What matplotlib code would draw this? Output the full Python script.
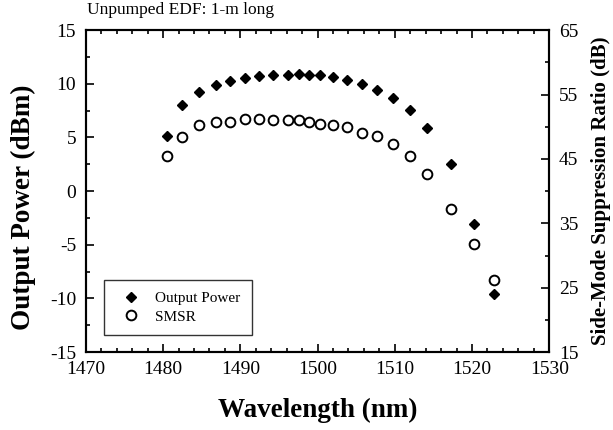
import matplotlib.pyplot as plt
from matplotlib.ticker import MultipleLocator

plt.rcParams['font.family'] = ['Liberation Serif', 'DejaVu Serif']
plt.rcParams['axes.unicode_minus'] = False

# wavelength (nm) of each measurement
wavelength = [1480.5, 1482.4, 1484.6, 1486.8, 1488.7, 1490.6, 1492.4, 1494.2,
              1496.2, 1497.6, 1498.9, 1500.3, 1502.0, 1503.8, 1505.7, 1507.7,
              1509.8, 1512.0, 1514.2, 1517.3, 1520.3, 1522.9]
# output power (dBm), left axis
output_power = [5.1, 8.0, 9.2, 9.9, 10.3, 10.5, 10.7, 10.8,
                10.8, 10.9, 10.85, 10.8, 10.65, 10.35, 10.0, 9.4,
                8.7, 7.55, 5.85, 2.5, -3.1, -9.6]
# side-mode suppression ratio (dB), right axis
smsr = [45.4, 48.4, 50.3, 50.7, 50.7, 51.2, 51.2, 51.1,
        51.1, 51.0, 50.8, 50.45, 50.2, 50.0, 49.1, 48.6,
        47.3, 45.5, 42.6, 37.2, 31.8, 26.2]

fig = plt.figure(figsize=(6.13, 4.30), dpi=100)
ax = fig.add_axes([0.140, 0.181, 0.756, 0.749])
ax2 = ax.twinx()

h1, = ax.plot(wavelength, output_power, linestyle='none', marker='D',
              markersize=5.5, color='black', label='Output Power')
h2, = ax2.plot(wavelength, smsr, linestyle='none', marker='o', markersize=7,
               markerfacecolor='white', markeredgecolor='black',
               markeredgewidth=1.4, label='SMSR')

ax.set_xlim(1470, 1530)
ax.set_ylim(-15, 15)
ax2.set_ylim(15, 65)

ax.xaxis.set_major_locator(MultipleLocator(10))
ax.xaxis.set_minor_locator(MultipleLocator(2))
ax.yaxis.set_major_locator(MultipleLocator(5))
ax.yaxis.set_minor_locator(MultipleLocator(2.5))
ax2.yaxis.set_major_locator(MultipleLocator(10, offset=5))
ax2.yaxis.set_minor_locator(MultipleLocator(5))

ax.tick_params(which='both', direction='in', top=True, labelsize=14, width=1.2)
ax.tick_params(which='major', length=6)
ax.tick_params(which='minor', length=3)
ax.tick_params(axis='y', pad=7)
ax.tick_params(axis='x', pad=6)
ax2.tick_params(which='both', direction='in', labelsize=14, width=1.2, pad=7)
ax2.tick_params(which='major', length=6)
ax2.tick_params(which='minor', length=3)

for a in (ax, ax2):
    for sp in a.spines.values():
        sp.set_linewidth(1.5)

ax.set_xlabel('Wavelength (nm)', fontsize=19.5, fontweight='bold', labelpad=15)
ax.set_ylabel('Output Power (dBm)', fontsize=19.5, fontweight='bold', labelpad=8)
ax.yaxis.set_label_coords(-0.108, 0.45)
ax2.set_ylabel('Side-Mode Suppression Ratio (dB)', fontsize=15,
               fontweight='bold', labelpad=9)

fig.text(0.142, 0.976, 'Unpumped EDF: 1-m long', fontsize=12.5, va='center')

leg = ax.legend(handles=[h1, h2], loc='lower left', bbox_to_anchor=(0.039, 0.053),
                fontsize=11, fancybox=False, edgecolor='black',
                borderpad=0.75, labelspacing=0.3, handletextpad=0.6,
                borderaxespad=0)
leg.get_frame().set_linewidth(1.0)

fig.savefig('out.png', dpi=100)
